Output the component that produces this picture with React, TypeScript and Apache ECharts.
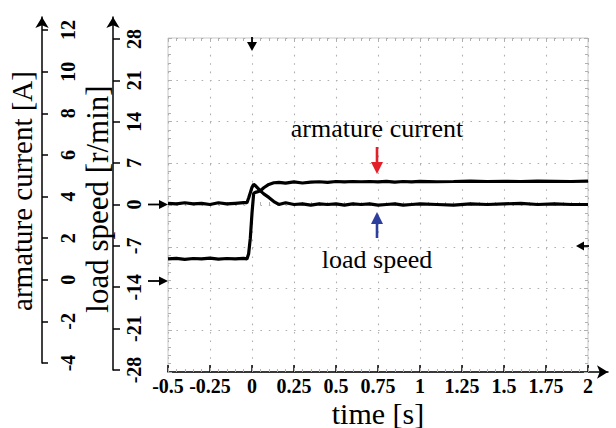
import React, { useEffect, useRef } from "react";
import * as echarts from "echarts";

// time stamps [s]
const TIME = [
  -0.5, -0.45, -0.4, -0.35, -0.3, -0.25, -0.2, -0.15, -0.1, -0.05,
  -0.03, -0.02, -0.01, 0, 0.01, 0.02, 0.03, 0.05, 0.07, 0.1,
  0.13, 0.16, 0.2, 0.25, 0.3, 0.35, 0.4, 0.45, 0.5, 0.55,
  0.6, 0.65, 0.7, 0.75, 0.8, 0.85, 0.9, 0.95, 1.0, 1.1,
  1.2, 1.3, 1.4, 1.5, 1.6, 1.7, 1.8, 1.9, 2.0,
];

// armature current [A]
const CURRENT = [
  1.0, 1.03, 0.98, 1.02, 1.0, 1.04, 0.99, 1.02, 1.0, 1.03,
  1.0, 1.25, 2.0, 3.2, 4.15, 4.2, 4.22, 4.28, 4.42, 4.58,
  4.66, 4.68, 4.64, 4.7, 4.65, 4.69, 4.71, 4.68, 4.72, 4.7,
  4.72, 4.71, 4.72, 4.7, 4.73, 4.69, 4.72, 4.7, 4.73, 4.71,
  4.72, 4.74, 4.72, 4.73, 4.72, 4.74, 4.73, 4.72, 4.74,
];

// load speed [r/min]
const SPEED = [
  0.2, 0.1, 0.3, 0.1, 0.2, 0.0, 0.3, 0.1, 0.2, 0.3,
  0.3, 1.1, 2.0, 2.9, 3.4, 3.2, 2.9, 2.3, 1.8, 1.2,
  0.5, 0.0, 0.3, 0.0, 0.1, -0.1, 0.1, 0.0, 0.1, -0.1,
  0.1, 0.0, 0.1, -0.1, 0.0, 0.1, -0.1, 0.0, 0.1, 0.0,
  -0.1, 0.1, 0.0, 0.1, 0.2, 0.0, 0.1, 0.0, 0.0,
];

const TIME_TICKS = [-0.5, -0.25, 0, 0.25, 0.5, 0.75, 1, 1.25, 1.5, 1.75, 2];
const CURRENT_TICKS = [-4, -2, 0, 2, 4, 6, 8, 10, 12];
const SPEED_TICKS = [-28, -21, -14, -7, 0, 7, 14, 21, 28];

const SERIF = '"Liberation Serif", "Times New Roman", serif';
const GRID_GRAY = "#b0b0b0";
const GRID_DOT = { color: GRID_GRAY, width: 1.1, type: [1.6, 6.8] as any };

export default function App() {
  const ref = useRef<HTMLDivElement>(null);

  useEffect(() => {
    if (!ref.current) return;
    const chart = echarts.init(ref.current, undefined, { renderer: "svg" });

    const axisBlack = { color: "#000", width: 1.5 };
    const tickLabel = {
      fontFamily: SERIF,
      fontWeight: "bold" as const,
      fontSize: 20,
      color: "#000",
    };
    // oscilloscope graticule tick marks (grey)
    const scopeTicks = {
      axisLine: { show: false, onZero: false },
      axisTick: { show: true, inside: true, length: 4, lineStyle: { color: GRID_GRAY, width: 1 } },
      minorTick: { show: true, splitNumber: 5, length: 3, lineStyle: { color: GRID_GRAY, width: 1 } },
      axisLabel: { show: false },
    };

    const arrowHead = (pts: number[][], fill: string) => ({
      type: "polygon",
      shape: { points: pts },
      style: { fill },
      z: 100,
    });
    const shaft = (x1: number, y1: number, x2: number, y2: number, stroke: string, w = 2.2) => ({
      type: "line",
      shape: { x1, y1, x2, y2 },
      style: { stroke, lineWidth: w },
      z: 100,
    });

    const option: any = {
      animation: false,
      backgroundColor: "#ffffff",
      grid: [
        { left: 168, top: 38, width: 420, height: 334, show: true, borderColor: "#c8c8c8", borderWidth: 1 },
        { left: 168, top: 17, width: 420, height: 353 },
        { left: 168, top: 17, width: 420, height: 346 },
        { left: 168, top: 38, width: 440, height: 334 },
      ],
      xAxis: [
        {
          gridIndex: 0, type: "value", min: -0.5, max: 2, interval: 0.25, position: "top",
          ...scopeTicks,
          splitLine: { show: true, lineStyle: GRID_DOT },
        },
        { gridIndex: 1, type: "value", min: -0.5, max: 2, show: false },
        { gridIndex: 2, type: "value", min: -0.5, max: 2, show: false },
        {
          gridIndex: 3, type: "value", min: -0.5, max: 2.119, position: "bottom",
          axisLine: { show: true, onZero: false, symbol: ["none", "arrow"], symbolSize: [10, 11], lineStyle: axisBlack },
          axisTick: { show: true, inside: true, length: 7, customValues: TIME_TICKS, lineStyle: axisBlack },
          axisLabel: { ...tickLabel, customValues: TIME_TICKS, margin: 4 },
          splitLine: { show: false },
        },
        {
          gridIndex: 0, type: "value", min: -0.5, max: 2, interval: 0.25, position: "bottom",
          ...scopeTicks, splitLine: { show: false },
        },
        {
          // centre horizontal graticule line (speed = 0)
          gridIndex: 0, type: "value", min: -0.5, max: 2, interval: 0.25,
          ...scopeTicks,
          axisLine: { show: false, onZero: true, onZeroAxisIndex: 0 },
          axisTick: { show: false },
          minorTick: { show: true, splitNumber: 5, length: 3, lineStyle: { color: GRID_GRAY, width: 1 } },
          splitLine: { show: false },
        },
      ],
      yAxis: [
        {
          gridIndex: 0, type: "value", min: -28, max: 28, interval: 7, position: "left",
          ...scopeTicks,
          splitLine: { show: true, lineStyle: GRID_DOT },
        },
        {
          gridIndex: 1, type: "value", min: -28, max: 31.72, position: "left", offset: 55,
          axisLine: { show: true, onZero: false, symbol: ["none", "arrow"], symbolSize: [10, 11], lineStyle: axisBlack },
          axisTick: { show: true, inside: true, length: 7, customValues: SPEED_TICKS, lineStyle: axisBlack },
          axisLabel: { ...tickLabel, inside: true, rotate: 90, customValues: SPEED_TICKS, margin: 11 },
          splitLine: { show: false },
        },
        {
          gridIndex: 2, type: "value", min: -4, max: 12.625, position: "left", offset: 126,
          axisLine: { show: true, onZero: false, symbol: ["none", "arrow"], symbolSize: [10, 11], lineStyle: axisBlack },
          axisTick: { show: true, inside: true, length: 6, customValues: CURRENT_TICKS, lineStyle: axisBlack },
          axisLabel: { ...tickLabel, inside: true, rotate: 90, customValues: CURRENT_TICKS, margin: 16 },
          splitLine: { show: false },
        },
        { gridIndex: 3, type: "value", min: 0, max: 1, show: false },
        {
          gridIndex: 0, type: "value", min: -28, max: 28, interval: 7, position: "right",
          ...scopeTicks, splitLine: { show: false },
        },
      ],
      series: [
        {
          name: "armature current", type: "line", xAxisIndex: 2, yAxisIndex: 2,
          data: TIME.map((t, i) => [t, CURRENT[i]]),
          showSymbol: false, symbol: "none",
          lineStyle: { color: "#000", width: 3.2 }, z: 5,
        },
        {
          name: "load speed", type: "line", xAxisIndex: 1, yAxisIndex: 1,
          data: TIME.map((t, i) => [t, SPEED[i]]),
          showSymbol: false, symbol: "none",
          lineStyle: { color: "#000", width: 3.2 }, z: 5,
        },
      ],
      graphic: [
        {
          type: "text", x: 22, y: 191, rotation: Math.PI / 2,
          style: { text: "armature current [A]", font: `29px ${SERIF}`, fill: "#000", align: "center", verticalAlign: "middle" },
        },
        {
          type: "text", x: 97, y: 199, rotation: Math.PI / 2,
          style: { text: "load speed [r/min]", font: `31px ${SERIF}`, fill: "#000", align: "center", verticalAlign: "middle" },
        },
        {
          type: "text", x: 378, y: 413,
          style: { text: "time [s]", font: `30px ${SERIF}`, fill: "#000", align: "center", verticalAlign: "middle" },
        },
        {
          type: "text", x: 377, y: 128,
          style: { text: "armature current", font: `26px ${SERIF}`, fill: "#000", align: "center", verticalAlign: "middle" },
        },
        {
          type: "text", x: 377, y: 259,
          style: { text: "load speed", font: `26px ${SERIF}`, fill: "#000", align: "center", verticalAlign: "middle" },
        },
        // red arrow (armature current)
        shaft(377, 147, 377, 165, "#e3202a", 2.6),
        arrowHead([[371, 162], [383, 162], [377, 174]], "#e3202a"),
        // blue arrow (load speed)
        shaft(377, 221, 377, 238, "#2c3f9c", 2.6),
        arrowHead([[371, 224], [383, 224], [377, 212]], "#2c3f9c"),
        // black oscilloscope markers
        shaft(148, 204.5, 162, 204.5, "#000", 1.8),
        arrowHead([[159, 200], [159, 209], [168, 204.5]], "#000"),
        shaft(148, 281, 162, 281, "#000", 1.8),
        arrowHead([[159, 276.5], [159, 285.5], [168, 281]], "#000"),
        shaft(252, 37, 252, 45, "#000", 1.8),
        arrowHead([[247, 42], [257, 42], [252, 51]], "#000"),
        shaft(580, 246, 589, 246, "#000", 1.8),
        arrowHead([[584, 241.5], [584, 250.5], [576, 246]], "#000"),
      ],
    };

    chart.setOption(option);
    return () => chart.dispose();
  }, []);

  return (
    <div
      ref={ref}
      style={{ position: "absolute", left: 0, top: 0, width: 616, height: 428, background: "#fff" }}
    />
  );
}
